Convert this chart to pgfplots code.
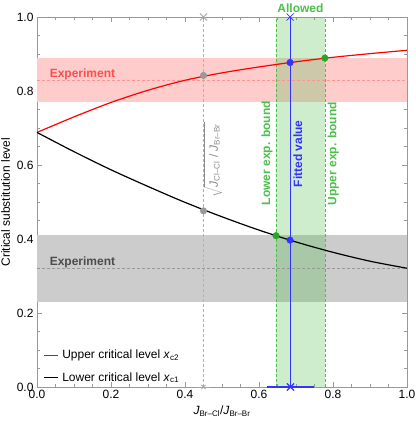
\documentclass[border=0pt]{standalone}
\usepackage{pgfplots}
\pgfplotsset{compat=1.18}
\usepackage{fontspec}
\setmainfont{Liberation Sans}
\setsansfont{Liberation Sans}

\definecolor{pinkband}{rgb}{1,0.8,0.8}
\definecolor{grayband}{rgb}{0.8,0.8,0.8}
\definecolor{bandgreen}{rgb}{0.3,0.75,0.3}
\definecolor{mygreen}{rgb}{0.3,0.75,0.3}
\definecolor{dotgreen}{rgb}{0.15,0.65,0.15}
\definecolor{myblue}{rgb}{0.2,0.2,1}
\definecolor{curvered}{rgb}{1,0,0}
\definecolor{expred}{rgb}{1,0.3,0.3}
\definecolor{expgray}{rgb}{0.3,0.3,0.3}

\newcommand{\fs}{\fontsize{12}{14}\selectfont}

\begin{document}
\begin{tikzpicture}
\begin{axis}[
  scale only axis, width=370pt, height=370pt,
  xmin=0, xmax=1, ymin=0, ymax=1,
  clip=false,
  axis line style={gray!80},
  tick style={gray!80},
  xtick={0,0.2,0.4,0.6,0.8,1}, ytick={0,0.2,0.4,0.6,0.8,1},
  minor tick num=3,
  tick align=inside,
  major tick length=5pt, minor tick length=3pt,
  /pgf/number format/.cd, fixed, fixed zerofill, precision=1, assume math mode=true,
  /pgfplots/.cd,
  tick label style={font=\fs},
  label style={font=\fs},
  xlabel={\textit{J}\textsubscript{Br–Cl}/\textit{J}\textsubscript{Br–Br}},
  ylabel={Critical substitution level},
]
% bands
\addplot[fill=pinkband, draw=none, forget plot] coordinates {(0,0.77)(1,0.77)(1,0.89)(0,0.89)} -- cycle;
\addplot[fill=grayband, draw=none, forget plot] coordinates {(0,0.23)(1,0.23)(1,0.41)(0,0.41)} -- cycle;
\addplot[fill=bandgreen, fill opacity=0.28, draw=none, forget plot] coordinates {(0.646,0)(0.778,0)(0.778,1)(0.646,1)} -- cycle;
% experiment means
\addplot[expred!60, dash pattern=on 3pt off 2pt, forget plot] coordinates {(0,0.83)(1,0.83)};
\addplot[gray!80, dash pattern=on 3pt off 2pt, forget plot] coordinates {(0,0.32)(1,0.32)};
\node[anchor=west, text=expred, font=\fs\bfseries] at (axis cs:0.025,0.846) {Experiment};
\node[anchor=west, text=expgray, font=\fs\bfseries] at (axis cs:0.025,0.338) {Experiment};
% vertical guides
\addplot[gray!60, dash pattern=on 3pt off 2pt, forget plot] coordinates {(0.45,0)(0.45,1)};
\addplot[mygreen, dash pattern=on 3pt off 2pt, forget plot] coordinates {(0.646,0)(0.646,1)};
\addplot[mygreen, dash pattern=on 3pt off 2pt, forget plot] coordinates {(0.778,0)(0.778,1)};
\addplot[myblue, forget plot] coordinates {(0.684,0)(0.684,1)};
% x markers and fitted-value error bar
\addplot[only marks, mark=x, mark size=5pt, thick, gray!70, forget plot] coordinates {(0.45,1)};
\addplot[only marks, mark=x, mark size=5pt, thick, myblue, forget plot] coordinates {(0.684,1)};
\addplot[myblue, very thick, mark=x, mark size=5pt, forget plot,
  error bars/.cd, x dir=both, x explicit,
  error bar style={myblue, very thick},
  error mark options={mark size=4pt, myblue, very thick}]
  coordinates {(0.685,0) +- (0.053,0)};
\addplot[gray!70, thick, mark=x, mark size=3pt, forget plot,
  error bars/.cd, x dir=both, x explicit,
  error bar style={gray!70, thick},
  error mark options={mark size=3.5pt, gray!70, thick}]
  coordinates {(0.45,0) +- (0.008,0)};
% critical levels
\addplot[curvered, very thick, smooth, forget plot] coordinates {
  (0.0,0.688)(0.1,0.730)(0.2,0.769)(0.3,0.802)(0.4,0.829)(0.5,0.849)
  (0.6,0.865)(0.7,0.879)(0.8,0.891)(0.9,0.901)(1.0,0.910)};
\addplot[black, very thick, smooth, forget plot] coordinates {
  (0.0,0.688)(0.1,0.636)(0.2,0.587)(0.3,0.542)(0.4,0.499)(0.5,0.460)
  (0.6,0.424)(0.7,0.392)(0.8,0.364)(0.9,0.340)(1.0,0.321)};
% points
\addplot[only marks, mark=*, mark size=3.3pt, gray!80, forget plot] coordinates {(0.45,0.842)(0.45,0.476)};
\addplot[only marks, mark=*, mark size=3.3pt, dotgreen, forget plot] coordinates {(0.646,0.409)(0.778,0.889)};
\addplot[only marks, mark=*, mark size=3.3pt, myblue, forget plot] coordinates {(0.684,0.877)(0.684,0.397)};
% labels
\node[rotate=90, text=gray!90, font=\fs] at (axis cs:0.476,0.614)
  {$\displaystyle\sqrt{\mbox{\textit{J}\textsubscript{Cl–Cl} / \textit{J}\textsubscript{Br–Br}}\,}$};
\node[rotate=90, text=mygreen, font=\fs\bfseries] at (axis cs:0.622,0.632) {Lower exp. bound};
\node[rotate=90, text=myblue, font=\fs\bfseries] at (axis cs:0.705,0.630) {Fitted value};
\node[rotate=90, text=mygreen, font=\fs\bfseries] at (axis cs:0.801,0.630) {Upper exp. bound};
\node[anchor=base, text=mygreen, font=\fs\bfseries] at (axis cs:0.712,1) [yshift=4pt] {Allowed};
% legend
\draw[draw=curvered, line width=1.3pt] (rel axis cs:0.019,0.086) -- (rel axis cs:0.057,0.086);
\node[anchor=west, text=black, font=\fs, inner sep=4pt] at (rel axis cs:0.057,0.086)
  {Upper critical level \textit{x}\textsubscript{c2}};
\draw[draw=black, line width=1.3pt] (rel axis cs:0.019,0.025) -- (rel axis cs:0.057,0.025);
\node[anchor=west, text=black, font=\fs, inner sep=4pt] at (rel axis cs:0.057,0.025)
  {Lower critical level \textit{x}\textsubscript{c1}};
\coordinate (ll) at (rel axis cs:0,0);
\coordinate (ur) at (rel axis cs:1,1);
\end{axis}
\pgfresetboundingbox
\path ([shift={(-37pt,-35pt)}]ll) rectangle ([shift={(8pt,17pt)}]ur);
\end{tikzpicture}
\end{document}
